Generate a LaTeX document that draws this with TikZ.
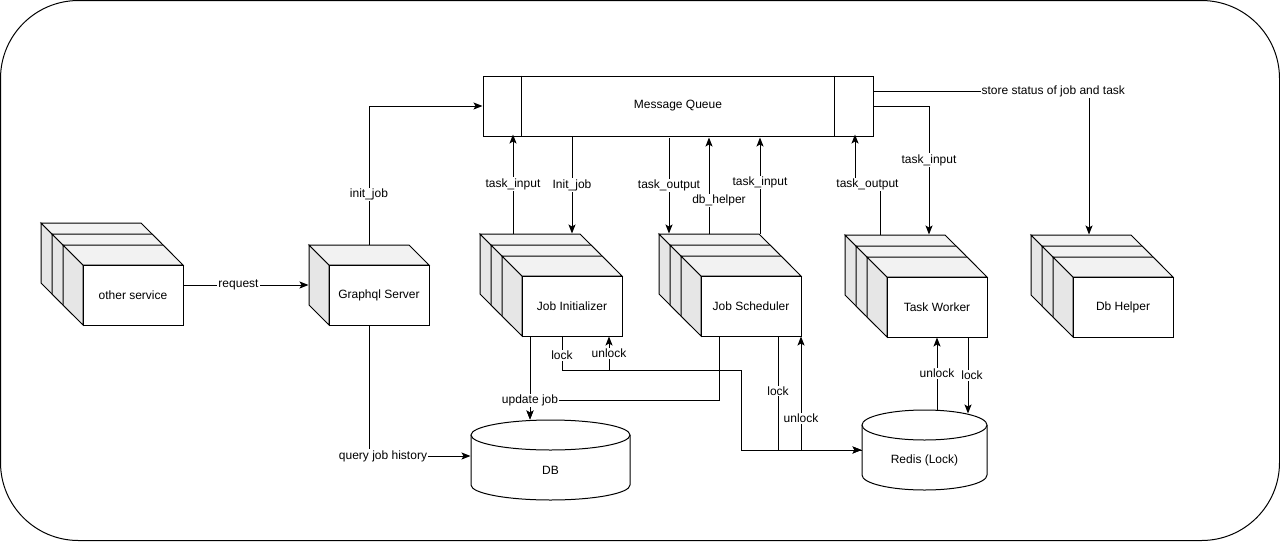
\documentclass[tikz,border=0pt]{standalone}
\usepackage{fontspec}
\setmainfont{Liberation Sans}
\usetikzlibrary{arrows.meta}

\definecolor{sidegray}{HTML}{E6E6E6}
\definecolor{topgray}{HTML}{F2F2F2}

\tikzstyle{face} = [rectangle, draw, fill=white, minimum width=100pt, minimum height=60pt, inner sep=0pt]
\tikzstyle{queue} = [rectangle, draw, minimum width=390pt, minimum height=60pt]
\tikzstyle{line} = [draw, -{Stealth[length=9pt, width=7pt, inset=2pt]}]
\tikzstyle{lbl} = [fill=white, inner sep=1pt]

% one box, front face top left at (#1,#2)
\newcommand{\boxcube}[2]{%
  \begin{scope}[shift={(#1,#2)}]
    \filldraw[fill=sidegray] (0,0) -- (-20,-20) -- (-20,40) -- (0,60) -- cycle;
    \filldraw[fill=topgray] (0,0) -- (-20,-20) -- (80,-20) -- (100,0) -- cycle;
    \filldraw[fill=white] (0,0) rectangle (100,60);
  \end{scope}}
% three boxes one behind the other, node on the front face
\newcommand{\stackcube}[4]{%
  \boxcube{#2-22}{#3-22}
  \boxcube{#2-11}{#3-11}
  \boxcube{#2}{#3}
  \node [face] (#1) at (#2+50,#3+30) {#4};}
% cylinder: name, left x, top y, x radius, text
\newcommand{\drum}[5]{%
  \begin{scope}[shift={(#2,#3)}]
    \filldraw[fill=white] (0,15) -- (0,65) arc[start angle=180, end angle=360, x radius=#4pt, y radius=15pt] -- (2*#4,15);
    \filldraw[fill=white] (#4,15) ellipse [x radius=#4pt, y radius=15pt];
  \end{scope}
  \node [minimum width=2*#4pt, minimum height=80pt, inner sep=0pt, label={[yshift=-10pt]center:#5}] (#1) at (#2+#4,#3+40) {};}

\begin{document}
\begin{tikzpicture}[x=1pt, y=-1pt, line width=1pt, font=\fontsize{12pt}{14pt}\selectfont]
	\useasboundingbox (0,0) rectangle (1280,541);
	\draw [rounded corners=78pt] (0.5,0.5) rectangle (1279.5,540.5);

	\node [queue] (mq) at (678,106) {Message Queue};
	\draw ([xshift=39pt]mq.north west) -- ([xshift=39pt]mq.south west);
	\draw ([xshift=-39pt]mq.north east) -- ([xshift=-39pt]mq.south east);

	\stackcube{other}{83}{265}{other service}
	\boxcube{329}{265}
	\node [face] (gql) at (379,295) {Graphql Server};
	\stackcube{init}{522}{276}{Job Initializer}
	\stackcube{sched}{701}{276}{Job Scheduler}
	\stackcube{worker}{887}{277}{Task Worker}
	\stackcube{helper}{1073}{277}{Db Helper}
	\drum{db}{471}{420}{79.5}{DB}
	\drum{redis}{862}{410}{62.5}{Redis (Lock)}

	% graphql server
	\path [line] ([yshift=10pt]other.east) -- node [lbl, pos=.44] {request} ([xshift=-20pt,yshift=10pt]gql.west);
	\path [line] ([xshift=-10pt,yshift=20pt]gql.north) |- node [lbl, pos=.18] {init\_job} (mq.west);
	\path [line] ([xshift=-10pt]gql.south) |- node [lbl, pos=.5, xshift=14pt] {query job history} ([yshift=4pt]db.west);

	% message queue
	\path [line] ([xshift=-59pt,yshift=42pt]init.north) -- node [lbl] {task\_input} ++(0,-99);
	\path [line] (mq.south -| init.north) -- node [lbl] {Init\_job} ([yshift=42pt]init.north);
	\path [line] ([xshift=-82pt,yshift=42pt]sched.north) ++(0,-96) -- node [lbl] {task\_output} ([xshift=-82pt,yshift=42pt]sched.north);
	\path [line] ([xshift=-42pt,yshift=42pt]sched.north) -- node [lbl, pos=.34, xshift=10pt] {db\_helper} ++(0,-96);
	\path [line] ([xshift=9pt,yshift=42pt]sched.north) -- node [lbl, pos=.53] {task\_input} ++(0,-96);
	\path [line] ([xshift=-57pt,yshift=42pt]worker.north) -- ++(0,-50) -- node [lbl] {task\_output} ++(-25,0) -- ++(0,-50);
	\path [line] (mq.east) -| node [lbl, pos=.71] {task\_input} ([xshift=-8pt,yshift=42pt]worker.north);
	\path [line] ([yshift=15pt]mq.east) -| node [lbl, pos=.417] {store status of job and task} ([xshift=-34pt,yshift=42pt]helper.north);

	% db
	\path [line] ([xshift=-42pt]init.south) -- ([xshift=-20.5pt]db.north);
	\path [line] ([xshift=-32pt]sched.south) -- ++(0,64) -| node [lbl, pos=.5] {update job} ([xshift=-20.5pt]db.north);

	% redis
	\path [line] ([xshift=-10pt]init.south) -- node [lbl, pos=.55] {lock} ++(0,34) -- ++(179,0) |- (redis.west);
	\path [line] (redis.west) -| ([xshift=169pt,yshift=-34pt]init.south) -| node [lbl, pos=.75] {unlock} ([xshift=37pt]init.south);
	\path [line] ([xshift=27pt]sched.south) |- node [lbl, pos=.24] {lock} (redis.west);
	\path [line] (redis.west) -| node [lbl, pos=.64] {unlock} ([xshift=50pt]sched.south);
	\path [line] ([xshift=12.5pt]redis.north) -- node [lbl] {unlock} (worker.south);
	\path [line] ([xshift=31pt]worker.south) -- node [lbl, xshift=4pt] {lock} ([xshift=43.5pt,yshift=-4pt]redis.north);
\end{tikzpicture}
\end{document}
